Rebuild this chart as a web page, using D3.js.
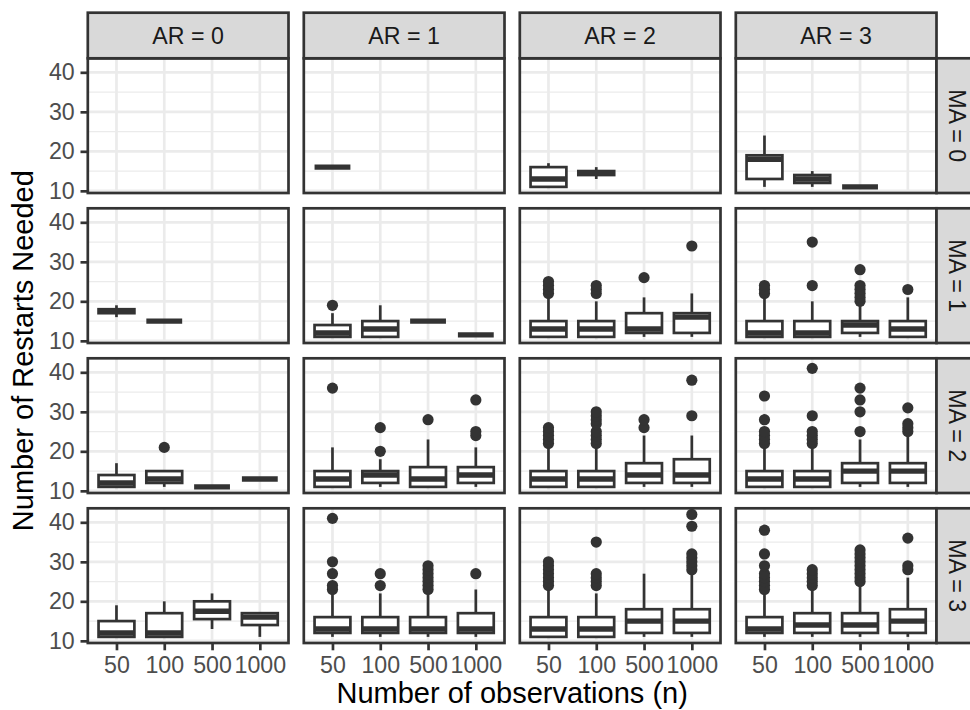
<!DOCTYPE html>
<html><head><meta charset="utf-8">
<script src="https://cdn.jsdelivr.net/npm/d3@7"></script>
<style>body{margin:0;background:#fff}svg{display:block}</style>
</head><body>
<svg id="c" width="970" height="710"></svg>
<script>
const arLabels = ["AR = 0", "AR = 1", "AR = 2", "AR = 3"];
const maLabels = ["MA = 0", "MA = 1", "MA = 2", "MA = 3"];
const nLabels = ["50", "100", "500", "1000"];
const yTicks = [10, 20, 30, 40];
const yMinorTicks = [15, 25, 35];
const yDataRange = [11, 42];

// [ma, ar, n, ymin, q1, median, q3, ymax]
const boxStats = [
  [0, 1, "50", 16, 16, 16, 16, 16],
  [0, 2, "50", 11, 11, 13, 16, 17],
  [0, 2, "100", 13, 14, 14.5, 15, 16],
  [0, 3, "50", 11, 13, 18, 19, 24],
  [0, 3, "100", 11, 12, 13, 14, 15],
  [0, 3, "500", 11, 11, 11, 11, 11],

  [1, 0, "50", 16, 17, 17.5, 18, 19],
  [1, 0, "100", 15, 15, 15, 15, 15],
  [1, 1, "50", 11, 11, 12, 14, 17],
  [1, 1, "100", 11, 11, 13, 15, 19],
  [1, 1, "500", 15, 15, 15, 15, 15],
  [1, 1, "1000", 11.5, 11.5, 11.5, 11.5, 11.5],
  [1, 2, "50", 11, 11, 13, 15, 21],
  [1, 2, "100", 11, 11, 13, 15, 20],
  [1, 2, "500", 11, 12, 13, 17, 21],
  [1, 2, "1000", 11, 12, 16, 17, 22],
  [1, 3, "50", 11, 11, 12, 15, 21],
  [1, 3, "100", 11, 11, 12, 15, 20],
  [1, 3, "500", 11, 12, 14, 15, 19],
  [1, 3, "1000", 11, 11, 13, 15, 21],

  [2, 0, "50", 11, 11, 12, 14, 17],
  [2, 0, "100", 11, 12, 13, 15, 15],
  [2, 0, "500", 11, 11, 11, 11, 11],
  [2, 0, "1000", 13, 13, 13, 13, 13],
  [2, 1, "50", 11, 11, 13, 15, 21],
  [2, 1, "100", 11, 12, 14, 15, 18],
  [2, 1, "500", 11, 11, 13, 16, 23],
  [2, 1, "1000", 11, 12, 14, 16, 21],
  [2, 2, "50", 11, 11, 13, 15, 21],
  [2, 2, "100", 11, 11, 13, 15, 21],
  [2, 2, "500", 11, 12, 14, 17, 24],
  [2, 2, "1000", 11, 12, 14, 18, 24],
  [2, 3, "50", 11, 11, 13, 15, 21],
  [2, 3, "100", 11, 11, 13, 15, 21],
  [2, 3, "500", 11, 12, 15, 17, 23],
  [2, 3, "1000", 11, 12, 15, 17, 24],

  [3, 0, "50", 11, 11, 12, 15, 19],
  [3, 0, "100", 11, 11, 12, 17, 20],
  [3, 0, "500", 13, 15.5, 17.5, 20, 22],
  [3, 0, "1000", 11, 14, 16, 17, 17],
  [3, 1, "50", 11, 12, 13, 16, 22],
  [3, 1, "100", 11, 12, 13, 16, 22],
  [3, 1, "500", 11, 12, 13, 16, 22],
  [3, 1, "1000", 11, 12, 13, 17, 23],
  [3, 2, "50", 11, 11, 13, 16, 23],
  [3, 2, "100", 11, 11, 13, 16, 22],
  [3, 2, "500", 11, 12, 15, 18, 27],
  [3, 2, "1000", 11, 12, 15, 18, 27],
  [3, 3, "50", 11, 12, 13, 16, 22],
  [3, 3, "100", 11, 12, 14, 17, 23],
  [3, 3, "500", 11, 12, 14, 17, 24],
  [3, 3, "1000", 11, 12, 15, 18, 26]
];

// [ma, ar, n, outlier values]
const outliers = [
  [1, 1, "50", [19]],
  [1, 2, "50", [22, 23, 24, 25]],
  [1, 2, "100", [22, 23, 24]],
  [1, 2, "500", [26]],
  [1, 2, "1000", [34]],
  [1, 3, "50", [22, 23, 24]],
  [1, 3, "100", [24, 35]],
  [1, 3, "500", [20, 21, 22, 23, 24, 28]],
  [1, 3, "1000", [23]],

  [2, 0, "100", [21]],
  [2, 1, "50", [36]],
  [2, 1, "100", [20, 26]],
  [2, 1, "500", [28]],
  [2, 1, "1000", [24, 25, 33]],
  [2, 2, "50", [22, 23, 24, 25, 26]],
  [2, 2, "100", [22, 23, 24, 25, 27, 28, 29, 30]],
  [2, 2, "500", [26, 28]],
  [2, 2, "1000", [29, 38]],
  [2, 3, "50", [22, 23, 24, 25, 28, 34]],
  [2, 3, "100", [22, 23, 24, 25, 29, 41]],
  [2, 3, "500", [25, 30, 33, 36]],
  [2, 3, "1000", [25, 26, 27, 31]],

  [3, 1, "50", [23, 24, 27, 30, 41]],
  [3, 1, "100", [24, 27]],
  [3, 1, "500", [23, 24, 25, 26, 27, 28, 29]],
  [3, 1, "1000", [27]],
  [3, 2, "50", [24, 25, 26, 27, 28, 29, 30]],
  [3, 2, "100", [24, 25, 26, 27, 35]],
  [3, 2, "1000", [28, 29, 30, 31, 32, 39, 42]],
  [3, 3, "50", [23, 24, 25, 26, 27, 29, 32, 38]],
  [3, 3, "100", [24, 25, 26, 27, 28]],
  [3, 3, "500", [25, 26, 27, 28, 29, 30, 31, 32, 33]],
  [3, 3, "1000", [28, 29, 36]]
];

const FONT = "'Liberation Sans', Arial, Helvetica, sans-serif";
const DARK = "#333333";
const plotLeft = 87.8, plotTop = 58.3, pw = 200.7, ph = 134.7, gap = 15.3, stripH = 45.6;
const LW = 2.7;
const TICK_FS = "23.2px", TITLE_FS = "29px";

const svg = d3.select("#c");
svg.append("rect").attr("width", 970).attr("height", 710).attr("fill", "#fff");

const x = d3.scalePoint().domain(nLabels).range([0, pw]).padding(0.6);
const span = yDataRange[1] - yDataRange[0];
const y = d3.scaleLinear().domain([yDataRange[0] - 0.05 * span, yDataRange[1] + 0.05 * span]).range([ph, 0]);
const bw = x.step() * 0.75;

for (let r = 0; r < maLabels.length; r++) {
  for (let c = 0; c < arLabels.length; c++) {
    const px = plotLeft + c * (pw + gap), py = plotTop + r * (ph + gap);
    const g = svg.append("g").attr("transform", `translate(${px},${py})`);
    g.append("rect").attr("width", pw).attr("height", ph).attr("fill", "#fff");
    g.selectAll(".ymin").data(yMinorTicks).join("line")
      .attr("x1", 0).attr("x2", pw).attr("y1", d => y(d)).attr("y2", d => y(d))
      .attr("stroke", "#EBEBEB").attr("stroke-width", 1.35);
    g.selectAll(".ymaj").data(yTicks).join("line")
      .attr("x1", 0).attr("x2", pw).attr("y1", d => y(d)).attr("y2", d => y(d))
      .attr("stroke", "#EBEBEB").attr("stroke-width", 2.7);
    g.selectAll(".xmaj").data(nLabels).join("line")
      .attr("x1", d => x(d)).attr("x2", d => x(d)).attr("y1", 0).attr("y2", ph)
      .attr("stroke", "#EBEBEB").attr("stroke-width", 2.7);

    outliers.filter(o => o[0] === r && o[1] === c).forEach(o => {
      g.selectAll(null).data(o[3]).join("circle")
        .attr("cx", x(o[2])).attr("cy", d => y(d)).attr("r", 5.6).attr("fill", DARK);
    });
    boxStats.filter(b => b[0] === r && b[1] === c).forEach(b => {
      const cx = x(b[2]);
      const [ymin, q1, med, q3, ymax] = b.slice(3);
      g.append("line").attr("x1", cx).attr("x2", cx).attr("y1", y(q3)).attr("y2", y(ymax))
        .attr("stroke", DARK).attr("stroke-width", LW);
      g.append("line").attr("x1", cx).attr("x2", cx).attr("y1", y(q1)).attr("y2", y(ymin))
        .attr("stroke", DARK).attr("stroke-width", LW);
      g.append("rect").attr("x", cx - bw / 2).attr("width", bw)
        .attr("y", y(q3)).attr("height", Math.max(0, y(q1) - y(q3)))
        .attr("fill", "#fff").attr("stroke", DARK).attr("stroke-width", LW);
      g.append("line").attr("x1", cx - bw / 2).attr("x2", cx + bw / 2)
        .attr("y1", y(med)).attr("y2", y(med))
        .attr("stroke", DARK).attr("stroke-width", LW * 2);
    });

    g.append("rect").attr("width", pw).attr("height", ph).attr("fill", "none")
      .attr("stroke", DARK).attr("stroke-width", LW);

    if (c === 0) {
      const ax = g.append("g").call(d3.axisLeft(y).tickValues(yTicks).tickSize(7.3).tickPadding(5.8));
      ax.select(".domain").remove();
      ax.selectAll(".tick line").attr("stroke", DARK).attr("stroke-width", LW);
      ax.selectAll(".tick text").attr("fill", "#4D4D4D").style("font-family", FONT).style("font-size", TICK_FS);
    }
    if (r === maLabels.length - 1) {
      const ax = g.append("g").attr("transform", `translate(0,${ph})`)
        .call(d3.axisBottom(x).tickSize(7.3).tickPadding(5.8));
      ax.select(".domain").remove();
      ax.selectAll(".tick line").attr("stroke", DARK).attr("stroke-width", LW);
      ax.selectAll(".tick text").attr("fill", "#4D4D4D").style("font-family", FONT).style("font-size", TICK_FS);
    }
    if (r === 0) {
      const s = svg.append("g").attr("transform", `translate(${px},${py - stripH})`);
      s.append("rect").attr("width", pw).attr("height", stripH)
        .attr("fill", "#D9D9D9").attr("stroke", DARK).attr("stroke-width", LW);
      s.append("text").attr("x", pw / 2).attr("y", stripH / 2).attr("dy", "0.36em")
        .attr("text-anchor", "middle").attr("fill", "#1A1A1A")
        .style("font-family", FONT).style("font-size", TICK_FS).text(arLabels[c]);
    }
    if (c === arLabels.length - 1) {
      const s = svg.append("g").attr("transform", `translate(${px + pw},${py})`);
      s.append("rect").attr("width", stripH).attr("height", ph)
        .attr("fill", "#D9D9D9").attr("stroke", DARK).attr("stroke-width", LW);
      s.append("text").attr("transform", `translate(${stripH / 2 - 1.5},${ph / 2}) rotate(90)`)
        .attr("dy", "0.36em").attr("text-anchor", "middle").attr("fill", "#1A1A1A")
        .style("font-family", FONT).style("font-size", TICK_FS).text(maLabels[r]);
    }
  }
}

const plotRight = plotLeft + 4 * pw + 3 * gap;
const plotBottom = plotTop + 4 * ph + 3 * gap;
svg.append("text").attr("x", (plotLeft + plotRight) / 2).attr("y", 702.5)
  .attr("text-anchor", "middle").attr("fill", "#000")
  .style("font-family", FONT).style("font-size", TITLE_FS).text("Number of observations (n)");
svg.append("text").attr("transform", `translate(33,${(plotTop + plotBottom) / 2}) rotate(-90)`)
  .attr("text-anchor", "middle").attr("fill", "#000")
  .style("font-family", FONT).style("font-size", TITLE_FS).text("Number of Restarts Needed");
</script>
</body></html>
